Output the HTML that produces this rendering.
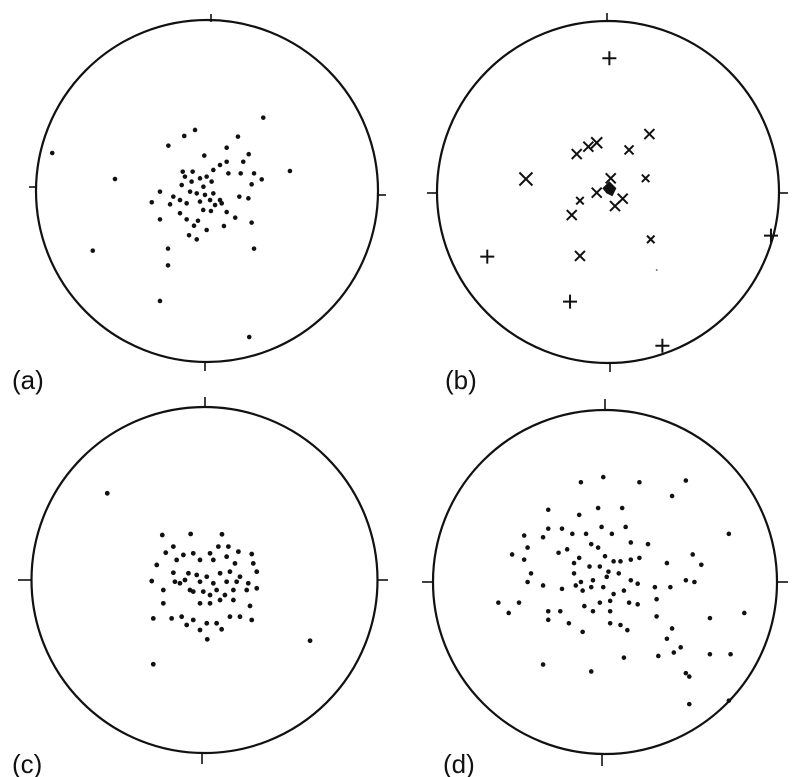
<!DOCTYPE html>
<html><head><meta charset="utf-8"><style>
html,body{margin:0;padding:0;background:#fff;width:795px;height:777px;overflow:hidden}
svg{display:block}
text{font-family:"Liberation Sans",Arial,sans-serif;font-size:26px;fill:#111}
</style></head><body>
<svg id="fig" width="795" height="777" viewBox="0 0 795 777"></svg>
<script>
// Data in units of percent of net radius (east, north)
const aE=[-90.5,-53.8,-66.8,-27.5,24.7,-22.8,-22.8,27.5,48.5,32.9,-7,-13.3,-22.6,18.1,11.5,24.4,21.2,-1.6,-32.3,-27.5,-21.6,26.1,32,27.5,19.7,12.5,24.2,18.9,16.5,9.9,26.1,-0.2,-6,-10.5,-7.6,-5.3,-11.9,-15.8,-2.2,2.3,11.5,-14.2,-8.4,3.7,7.6,11.5,-0.2,2.7,-2.1,-9,-14.8,-9.9,-6,-1.2,3.7,7.6,1.8,-15.8,-11.9,-4.1,-27.5,-19.7,4.7,8.6,-4.1,-12.9];
const aN=[22.2,7,-34.9,-64.3,-85.4,-33.7,-43.5,-33.7,11.7,42.9,35.7,32.2,26.5,31.8,25.3,21.5,17.1,20.7,-6.6,-16.6,-7.8,3.9,6.8,10.3,10.3,10.3,-4.3,-3.3,-15.6,-20.5,-18.5,-22.8,-28.3,-25.9,-20.3,-17.4,-16.6,-13,-11.1,-11.7,-12.3,11.3,11.3,12.3,15.2,17.1,8.4,5.5,2.5,5.5,3.5,-0.4,-1.4,-2.3,-1.4,-5.3,-5.3,-5.3,-7.2,-6.2,-0.4,-3.3,-8.2,-7.2,7.4,8.4];
const bPlusE=[0.8,-70.6,-22.2,31.8,95.3];
const bPlusN=[78.2,-37.8,-64.1,-89.9,-25.5];
const bCrossE=[-48,-18.3,-11.5,-6.6,12.3,24.2,22,1.6,-6.6,-16.4,-21.2,8.6,4.1,25,-16.4];
const bCrossN=[7.6,22.2,26.5,28.8,24.6,33.9,8,8,-0.4,-5.1,-13.5,-3.9,-8.2,-27.7,-37.4];
const bCrossSize=[1.3,1,1,1.1,0.9,1,0.75,1,1,0.75,1,1,1,0.75,1];
const cE=[-56.2,61,-29.6,-24.4,-8,10.1,-18,-22.4,-12.2,-6.5,3.2,8,13.8,19.6,27.3,-27.6,-16.1,-2.6,5.1,12.8,17.6,28.2,30.2,-18,-9.3,-4.5,1.3,9,14.7,20.5,-30.5,-17.1,-11.3,-2.6,5.1,12.8,18.6,25.3,-23.8,-6.5,-0.7,7,16.7,24.4,30.2,-23.8,-2.6,3.2,9,16.7,26.3,-29.6,-19,-13.2,-6.5,1.3,7,14.7,20.5,27.3,-10.3,-2.6,9.9,1.6,-8.4,-14.2,11.8,3.2];
const cN=[50.1,-35.1,-48.7,26,26.6,26.4,19.3,15.8,14.5,15.4,15.4,19.3,19.3,16.4,15,8.7,11.6,11.6,11.6,13.5,9.6,9.6,4.8,4.2,3.9,2.9,1.9,3.9,4.8,1.9,-0.6,-1,0,-1,-1.9,-1,-1,-1.9,-5.8,-6.7,-6.7,-5.8,-5.8,-5.8,-4.8,-13.5,-13.5,-13.5,-11.6,-11.6,-15,-22.2,-22.2,-21.2,-23.1,-25,-25,-21.2,-21.2,-23.1,-26,-28.9,-28.5,-34.3,-5.8,-1.9,-8.7,-8.7];
const dE=[-14,-1,20,47,39,-33,-4,10,-15,-47,-36,-33,-25,-19,-2,4,12,15,25,-54,-45,-47,-27,-22,-18,-11,-8,-4,0,5,9,15,20,-15,-9,-3,2,8,-18,-14,-7,1,15,19,-43,-45,-36,-25,-17,-13,-8,-1,5,11,3,-3,-12,-7,3,14,19,30,38,36,47,51,52,56,29,72,-62,-50,-56,-33,-26,-33,-21,-13,3,9,13,30,39,36,61,81,11,31,40,44,61,73,-36,-8,47,49,49,72];
const dN=[58,61,58,59,50,42,43,43,39,27,26,31,31,28,32,28,32,23,22,16,20,13,17,19,11,28,22,20,15,12,12,13,14,14,9,9,6,5,5,0,1,3,1,-1,5,0,-2,-4,-2,-5,-3,-3,-7,-5,-11,-12,-14,-17,-17,-12,-13,-10,-3,11,1,16,0,10,-3,28,-12,-12,-18,-17,-17,-22,-24,-29,-24,-25,-28,-20,-27,-33,-21,-18,-44,-43,-41,-38,-42,-42,-48,-52,-53,-55,-71,-69];

const NS='http://www.w3.org/2000/svg';
const svg=document.getElementById('fig');
function mk(tag,attrs,parent){const e=document.createElementNS(NS,tag);for(const k in attrs)e.setAttribute(k,attrs[k]);(parent||svg).appendChild(e);return e;}

const panels=[
 {id:'a',cx:207,cy:191,r:171,ticks:[[211,14,211,22],[29,187,37,187],[378,195,386,195],[205,361,205,371]],lx:12,ly:389},
 {id:'b',cx:608,cy:192,r:171,ticks:[[607,13,607,22],[427,193,437,193],[779,193,788,193],[610,362,610,372]],lx:445,ly:389},
 {id:'c',cx:204.5,cy:580,r:173,ticks:[[205,397,205,407],[18,580,32,580],[377,580,388,580],[202,753,202,764]],lx:12,ly:773},
 {id:'d',cx:605,cy:582,r:172,ticks:[[605,399,605,410],[422,582,433,582],[777,582,788,582],[602,755,602,766]],lx:443,ly:773}
];
function px(p,e){return p.cx+e/100*p.r;}
function py(p,n){return p.cy-n/100*p.r;}

panels.forEach(p=>{
  const g=mk('g',{});
  
  
  const c=mk('circle',{cx:p.cx,cy:p.cy,r:p.r,fill:'none',stroke:'#111','stroke-width':2.2},g);
  
  
  p.ticks.forEach((t,i)=>{
    const l=mk('line',{x1:t[0],y1:t[1],x2:t[2],y2:t[3],stroke:'#111','stroke-width':1.6},g);
    
    
  });
  const tx=mk('text',{x:p.lx,y:p.ly},g);
  tx.textContent='('+p.id+')';
  
  
  p.g=g;
});

function dots(p,E,N,rad){
  for(let i=0;i<E.length;i++){
    const d=mk('circle',{cx:px(p,E[i]),cy:py(p,N[i]),r:rad,fill:'#111'},p.g);
    
    
  }
}
dots(panels[0],aE,aN,2.3);
dots(panels[2],cE,cN,2.4);
dots(panels[3],dE,dN,2.3);

const pb=panels[1];
for(let i=0;i<bPlusE.length;i++){
  const x=px(pb,bPlusE[i]),y=py(pb,bPlusN[i]),s=7;
  const path=mk('path',{d:`M${x-s},${y}H${x+s}M${x},${y-s}V${y+s}`,stroke:'#111','stroke-width':2,fill:'none'},pb.g);
  
  
}
for(let i=0;i<bCrossE.length;i++){
  const x=px(pb,bCrossE[i]),y=py(pb,bCrossN[i]),s=5*bCrossSize[i];
  const path=mk('path',{d:`M${x-s},${y-s}L${x+s},${y+s}M${x+s},${y-s}L${x-s},${y+s}`,stroke:'#111','stroke-width':2,fill:'none'},pb.g);
  
  
}
const bx=px(pb,0.8),by=py(pb,2.2);
const blob=mk('path',{d:`M${bx-7},${by} L${bx},${by-7} L${bx+7},${by} L${bx+3},${by+8} L${bx-3},${by+5} Z`,fill:'#111'},pb.g);


const tiny=mk('circle',{cx:px(pb,28.5),cy:py(pb,-45.6),r:1,fill:'#777'},pb.g);


</script>
</body></html>
